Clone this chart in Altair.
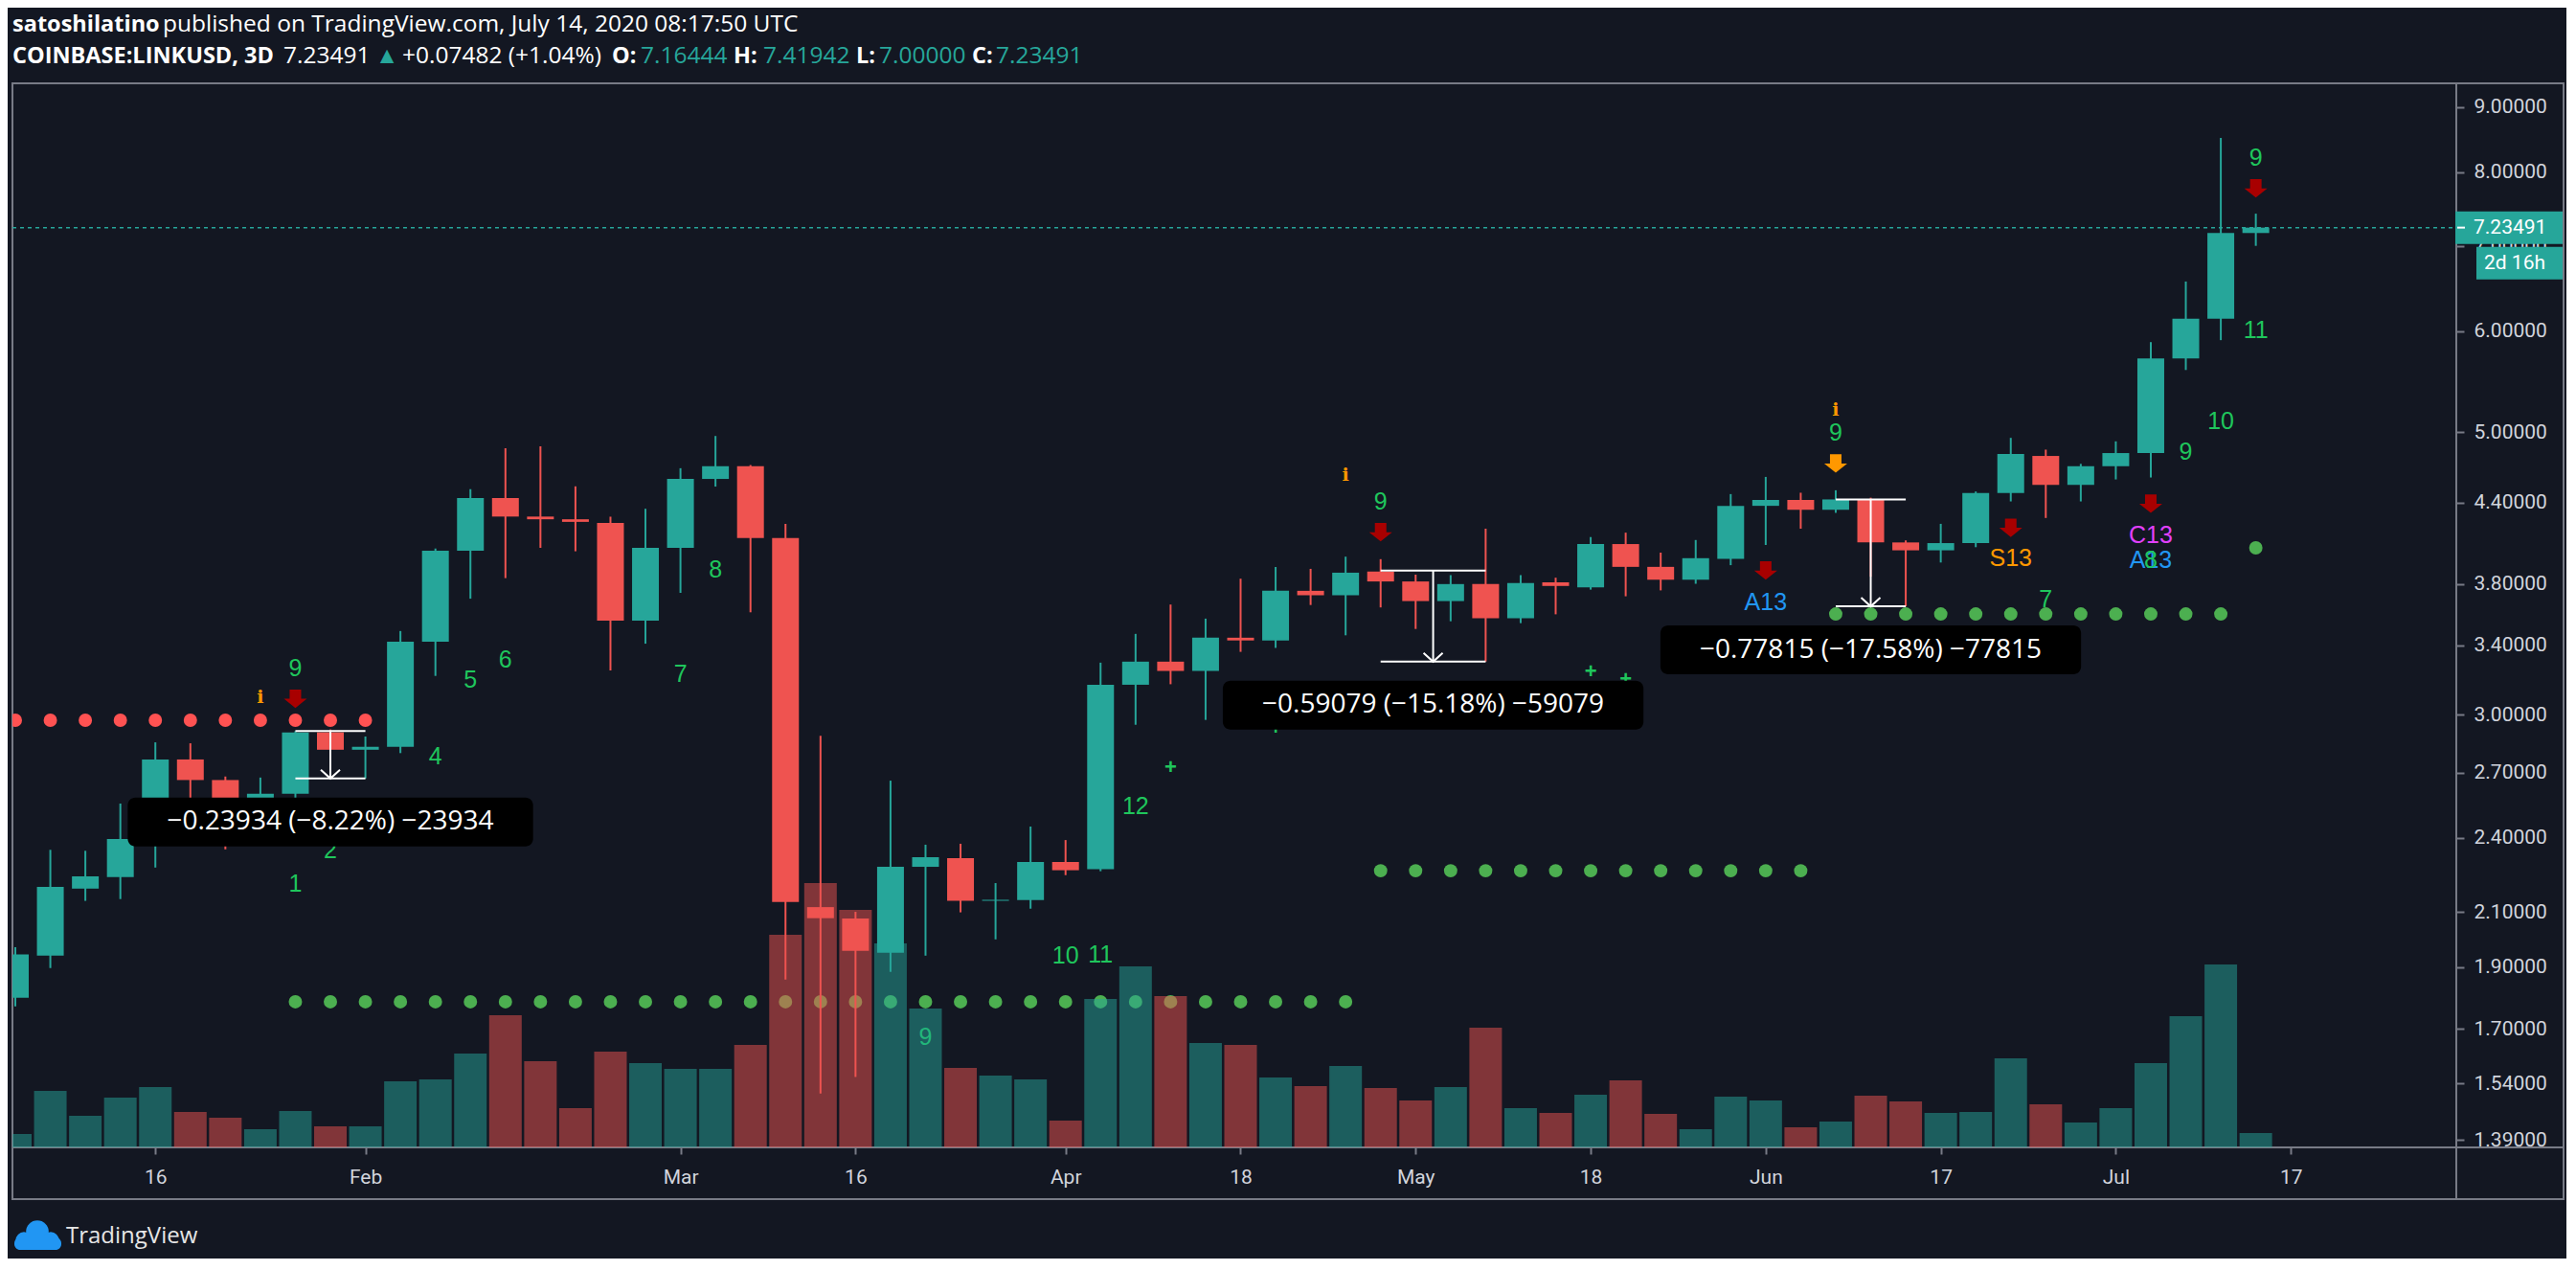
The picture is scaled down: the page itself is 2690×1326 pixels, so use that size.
import json
import numpy as np
import pandas as pd
import altair as alt

# ---------------- chart data ----------------
FIRST_BAR = "2020-01-04"          # COINBASE:LINKUSD, 3-day candles
OPEN = [1.798, 1.940, 2.190, 2.236, 2.396, 2.766, 2.665, 2.580, 2.600, 2.905,
        2.815, 2.830, 3.422, 4.034, 4.437, 4.291, 4.270, 4.242, 3.555, 4.055,
        4.593, 4.700, 4.128, 2.118, 2.075, 1.950, 2.278, 2.314, 2.142, 2.145,
        2.298, 2.268, 3.166, 3.301, 3.246, 3.447, 3.430, 3.752, 3.722, 3.885,
        3.816, 3.683, 3.798, 3.571, 3.810, 3.775, 4.083, 3.918, 3.828, 3.975,
        4.375, 4.422, 4.344, 4.426, 4.095, 4.037, 4.090, 4.477, 4.788, 4.544,
        4.700, 4.813, 5.712, 6.137, 7.16444]
HIGH = [1.970, 2.349, 2.345, 2.554, 2.853, 2.848, 2.682, 2.677, 2.9117, 2.920,
        2.883, 3.489, 4.050, 4.509, 4.855, 4.872, 4.532, 4.290, 4.352, 4.683,
        4.964, 4.710, 4.235, 2.887, 2.100, 2.662, 2.371, 2.375, 2.212, 2.450,
        2.391, 3.295, 3.471, 3.660, 3.568, 3.835, 3.917, 3.904, 3.991, 3.973,
        3.863, 3.860, 4.198, 3.860, 3.842, 4.135, 4.168, 4.020, 4.113, 4.469,
        4.610, 4.480, 4.500, 4.440, 4.110, 4.235, 4.490, 4.947, 4.843, 4.720,
        4.916, 5.882, 6.563, 8.508, 7.41942]
LOW = [1.770, 1.897, 2.142, 2.149, 2.275, 2.550, 2.351, 2.520, 2.560, 2.780,
       2.6724, 2.798, 3.217, 3.699, 3.839, 4.055, 4.030, 3.249, 3.410, 3.738,
       4.530, 3.609, 1.858, 1.512, 1.558, 1.884, 1.940, 2.098, 1.998, 2.112,
       2.244, 2.260, 2.945, 3.169, 2.971, 3.360, 3.384, 3.657, 3.462, 3.641,
       3.502, 3.551, 3.3012, 3.539, 3.596, 3.760, 3.715, 3.755, 3.800, 3.930,
       4.076, 4.198, 4.320, 3.849, 3.6479, 3.949, 4.060, 4.410, 4.280, 4.410,
       4.589, 4.605, 5.593, 5.903, 7.00000]
CLOSE = [1.944, 2.197, 2.239, 2.396, 2.766, 2.665, 2.580, 2.600, 2.905, 2.815,
         2.830, 3.422, 4.034, 4.437, 4.291, 4.270, 4.250, 3.555, 4.055, 4.593,
         4.700, 4.128, 2.138, 2.076, 1.957, 2.278, 2.318, 2.142, 2.146, 2.298,
         2.264, 3.166, 3.301, 3.246, 3.447, 3.430, 3.752, 3.722, 3.877, 3.816,
         3.683, 3.798, 3.571, 3.805, 3.785, 4.083, 3.918, 3.828, 3.980, 4.375,
         4.422, 4.344, 4.426, 4.095, 4.037, 4.090, 4.477, 4.805, 4.544, 4.700,
         4.813, 5.712, 6.137, 7.16444, 7.23491]
VOLUME = [1.4, 5.9, 3.3, 5.2, 6.3, 3.7, 3.1, 1.9, 3.8, 2.2,        # millions (approx.)
          2.2, 6.9, 7.1, 9.8, 13.8, 9.0, 4.1, 10.0, 8.8, 8.2,
          8.2, 10.7, 22.2, 27.6, 24.8, 21.3, 14.5, 8.3, 7.5, 7.1,
          2.8, 15.5, 18.9, 15.8, 10.9, 10.7, 7.3, 6.4, 8.5, 6.2,
          4.9, 6.3, 12.5, 4.1, 3.6, 5.5, 7.0, 3.5, 1.9, 5.3,
          4.9, 2.1, 2.7, 5.4, 4.8, 3.6, 3.7, 9.3, 4.5, 2.6,
          4.1, 8.8, 13.7, 19.1, 1.5]
CHANGE = 0.07482
CHANGE_PCT = 1.04
BAR_TIMER = "2d 16h"

PRICE_TICKS = [1.39, 1.54, 1.70, 1.90, 2.10, 2.40, 2.70, 3.00, 3.40, 3.80,
               4.40, 5.00, 6.00, 7.00, 8.00, 9.00]
TIME_TICK_BARS = [4, 10, 19, 24, 30, 35, 40, 45, 50, 55, 60, 65]
TIME_TICK_LABELS = ["16", "Feb", "Mar", "16", "Apr", "18", "May", "18", "Jun", "17", "Jul", "17"]

# stop dots (runs of bars at one level)
DOT_FROM = [0, 8, 39, 52, 64]
DOT_TO = [10, 38, 51, 63, 64]
DOT_LEVEL = [2.969, 1.785, 2.262, 3.598, 4.055]
DOT_SIDE = ["sell", "buy", "buy", "buy", "buy"]

# TD sequential counts
TD_BAR = [8, 9, 8, 12, 13, 14, 19, 20, 26, 30, 31, 32, 39, 52, 58, 62, 63, 64, 64]
TD_PRICE = [2.209, 2.346, 3.260, 2.778, 3.192, 3.312, 3.226, 3.900, 1.673, 1.940,
            1.944, 2.541, 4.406, 4.991, 3.690, 4.822, 5.093, 6.012, 8.206]
TD_TEXT = ["1", "2", "9", "4", "5", "6", "7", "8", "9", "10", "11", "12", "9", "9",
           "7", "9", "10", "11", "9"]
# countdown letters (drawn under the green 8 at bar 61)
CD_BAR = [50, 57, 61, 61]
CD_PRICE = [3.676, 3.980, 4.150, 3.966]
CD_TEXT = ["A13", "S13", "C13", "A13"]
CD_KIND = ["A", "S", "C", "A"]
OVER_BAR = [61]
OVER_PRICE = [3.966]
OVER_TEXT = ["8"]
PLUS_BAR = [33, 36, 45, 46]
PLUS_PRICE = [2.728, 2.928, 3.246, 3.199]
ARROW_BAR = [8, 39, 50, 52, 57, 61, 64]
ARROW_PRICE = [3.087, 4.171, 3.892, 4.723, 4.205, 4.392, 7.767]
ARROW_KIND = ["sell", "sell", "sell", "warn", "sell", "sell", "sell"]
INFO_BAR = [7, 38, 52]
INFO_PRICE = [3.094, 4.622, 5.202]

# price-range measurements
RULER_FROM = [8, 39, 52]
RULER_TO = [10, 42, 54]
RULER_HIGH = [2.91174, 3.89200, 4.42634]
RULER_LOW = [2.67240, 3.30121, 3.64819]
RULER_TEXT = ["\u22120.23934 (\u22128.22%) \u221223934",
              "\u22120.59079 (\u221215.18%) \u221259079",
              "\u22120.77815 (\u221217.58%) \u221277815"]

# ---------------- layout / style ----------------
PANE_W, PANE_H = 2552, 1111
X_DOMAIN = [0.0545, 69.59]
Y_DOMAIN = [1.3717, 9.391]
VOL_DOMAIN = [0, 111.1]
PX_PER_BAR = PANE_W / (X_DOMAIN[1] - X_DOMAIN[0])
PX_PER_LN = PANE_H / np.log(Y_DOMAIN[1] / Y_DOMAIN[0])

BG = "#131722"
TEAL = "#26a69a"
RED = "#ef5350"
BORDER = "#787b86"
AXIS_TXT = "#d1d4dc"
TD_GREEN = "#1fc65c"
DOT_GREEN = "#4caf50"
DOT_RED = "#ff5252"
SELL_RED = "#a80000"
ORANGE = "#ff9800"
BLUE = "#2196f3"
MAGENTA = "#e040fb"
WHITE = "#ffffff"


def shift(p, px):
    """price that sits px pixels above (px>0) price p on the log axis"""
    return p * np.exp(px / PX_PER_LN)


n = len(OPEN)
df = pd.DataFrame({
    "i": range(n),
    "date": pd.date_range(FIRST_BAR, periods=n, freq="3D").strftime("%Y-%m-%d"),
    "open": OPEN, "high": HIGH, "low": LOW, "close": CLOSE, "volume": VOLUME,
})
df["dir"] = np.where(df["close"] >= df["open"], "up", "down")

dots = pd.DataFrame([(i, lv, sd) for f, t, lv, sd in zip(DOT_FROM, DOT_TO, DOT_LEVEL, DOT_SIDE)
                     for i in range(f, t + 1)], columns=["i", "p", "side"])
td = pd.DataFrame({"i": TD_BAR, "p": TD_PRICE, "t": TD_TEXT})
cd = pd.DataFrame({"i": CD_BAR, "p": CD_PRICE, "t": CD_TEXT, "k": CD_KIND})
over = pd.DataFrame({"i": OVER_BAR, "p": OVER_PRICE, "t": OVER_TEXT})
plus = pd.DataFrame({"i": PLUS_BAR, "p": PLUS_PRICE, "t": ["+"] * len(PLUS_BAR)})
arrows = pd.DataFrame({"i": ARROW_BAR, "p": ARROW_PRICE, "k": ARROW_KIND})
info = pd.DataFrame({"i": INFO_BAR, "p": INFO_PRICE, "t": ["i"] * len(INFO_BAR)})

rul = pd.DataFrame({"a": RULER_FROM, "b": RULER_TO, "hi": RULER_HIGH, "lo": RULER_LOW, "t": RULER_TEXT})
rul["mid"] = (rul["a"] + rul["b"]) / 2
BOX_W = [425, 441, 441]
BOX_H, BOX_GAP = 51, 20
rul["bx"] = rul["mid"] - np.array(BOX_W) / 2 / PX_PER_BAR
rul["bx2"] = rul["mid"] + np.array(BOX_W) / 2 / PX_PER_BAR
rul["by"] = shift(rul["lo"], -BOX_GAP)
rul["by2"] = shift(rul["lo"], -BOX_GAP - BOX_H)
rul["bym"] = shift(rul["lo"], -BOX_GAP - BOX_H / 2)
hlines = pd.concat([rul[["a", "b", "hi"]].rename(columns={"hi": "p"}),
                    rul[["a", "b", "lo"]].rename(columns={"lo": "p"})])

last = CLOSE[-1]
tag = pd.DataFrame({"p": [last], "top": [shift(last, 17)], "bot": [shift(last, -17)],
                    "top2": [shift(last, -20)], "bot2": [shift(last, -54)],
                    "mid2": [shift(last, -37)], "t": [f"{last:.5f}"], "t2": [BAR_TIMER]})

one = pd.DataFrame({"k": [0]})

# ---------------- scales & axes ----------------
xs = alt.Scale(domain=X_DOMAIN, nice=False, zero=False)
ys = alt.Scale(type="log", domain=Y_DOMAIN, nice=False, zero=False)
dir_col = alt.Scale(domain=["up", "down"], range=[TEAL, RED])

label_expr = f"{json.dumps(TIME_TICK_LABELS)}[indexof({json.dumps(TIME_TICK_BARS)}, datum.value)]"
x_axis = alt.Axis(values=TIME_TICK_BARS, labelExpr=label_expr, title=None, grid=False,
                  domain=False, tickSize=7, tickWidth=2, tickColor=BORDER,
                  labelColor=AXIS_TXT, labelFont="Roboto", labelFontSize=21,
                  labelPadding=13, labelFlush=False, labelOverlap=False)
y_axis = alt.Axis(orient="right", values=PRICE_TICKS, format=".5f", title=None, grid=False,
                  domain=False, tickSize=8, tickWidth=2, tickColor=BORDER,
                  labelColor=AXIS_TXT, labelFont="Roboto", labelFontSize=21,
                  labelPadding=10, labelFlush=False, labelOverlap=False)


def X(f="i"):
    return alt.X(f"{f}:Q", scale=xs, axis=x_axis)


def Y(f, axis=False):
    return alt.Y(f"{f}:Q", scale=ys, axis=y_axis if axis else None)


def PX(v):
    return alt.value(v)


# ---------------- layers ----------------
frame = alt.Chart(one).mark_rect(filled=False, stroke=BORDER, strokeWidth=2).encode(
    x=PX(0), x2=PX(2664), y=PX(0), y2=PX(1165))
sep_h = alt.Chart(one).mark_rule(color=BORDER, strokeWidth=2).encode(x=PX(0), x2=PX(2664), y=PX(PANE_H))
sep_v = alt.Chart(one).mark_rule(color=BORDER, strokeWidth=2).encode(x=PX(PANE_W), y=PX(0), y2=PX(1165))

dot_layer = alt.Chart(dots).mark_circle(size=195, opacity=1, clip=True).encode(
    x=X(), y=Y("p"),
    color=alt.Color("side:N", scale=alt.Scale(domain=["sell", "buy"], range=[DOT_RED, DOT_GREEN]), legend=None))

cd_layer = alt.Chart(cd).mark_text(font="Liberation Sans", fontSize=25, align="center", baseline="middle").encode(
    x=X(), y=Y("p"), text="t:N",
    color=alt.Color("k:N", scale=alt.Scale(domain=["A", "S", "C"], range=[BLUE, ORANGE, MAGENTA]), legend=None))
td_layer = alt.Chart(td).mark_text(font="Liberation Sans", fontSize=25, align="center", baseline="middle",
                                   color=TD_GREEN).encode(x=X(), y=Y("p"), text="t:N")
over_layer = alt.Chart(over).mark_text(font="Liberation Sans", fontSize=25, align="center", baseline="middle",
                                       color=TD_GREEN).encode(x=X(), y=Y("p"), text="t:N")
plus_layer = alt.Chart(plus).mark_text(font="Liberation Sans", fontSize=22, fontWeight="bold", align="center",
                                       baseline="middle", color=TD_GREEN).encode(x=X(), y=Y("p"), text="t:N")
ARROW_PATH = "M-0.5,-0.8L0.5,-0.8L0.5,0L1,0L0,0.8L-1,0L-0.5,0Z"
arrow_layer = alt.Chart(arrows).mark_point(shape=ARROW_PATH, size=576, filled=True, opacity=1, strokeWidth=0).encode(
    x=X(), y=Y("p"),
    color=alt.Color("k:N", scale=alt.Scale(domain=["sell", "warn"], range=[SELL_RED, ORANGE]), legend=None))
info_layer = alt.Chart(info).mark_text(font="DejaVu Serif", fontWeight="bold", fontSize=19, align="center",
                                       baseline="middle", color=ORANGE).encode(x=X(), y=Y("p"), text="t:N")

vol_layer = alt.Chart(df).mark_bar(size=34, opacity=0.5, clip=True).encode(
    x=X(),
    y=alt.Y("volume:Q", scale=alt.Scale(domain=VOL_DOMAIN, nice=False), axis=None),
    color=alt.Color("dir:N", scale=dir_col, legend=None))

wick_layer = alt.Chart(df).mark_rule(strokeWidth=2, clip=True).encode(
    x=X(), y=Y("low", axis=True), y2="high:Q",
    color=alt.Color("dir:N", scale=dir_col, legend=None))
body_layer = alt.Chart(df).mark_bar(size=28, clip=True).encode(
    x=X(), y=Y("open"), y2="close:Q",
    color=alt.Color("dir:N", scale=dir_col, legend=None))

price_line = alt.Chart(tag).mark_rule(color=TEAL, strokeWidth=1.5, strokeDash=[4, 4]).encode(
    x=PX(0), x2=PX(PANE_W), y=Y("p"))

ruler_h = alt.Chart(hlines).mark_rule(color=WHITE, strokeWidth=2).encode(x=X("a"), x2="b:Q", y=Y("p"))
ruler_v = alt.Chart(rul).mark_rule(color=WHITE, strokeWidth=2).encode(x=X("mid"), y=Y("hi"), y2="lo:Q")
ruler_tip = alt.Chart(rul).mark_point(shape="M-1,-0.9L0,0L1,-0.9", size=400, filled=False,
                                      color=WHITE, strokeWidth=2, opacity=1).encode(x=X("mid"), y=Y("lo"))
box_layer = alt.Chart(rul).mark_rect(color="#000000", cornerRadius=8).encode(
    x=X("bx"), x2="bx2:Q", y=Y("by"), y2="by2:Q")
box_text = alt.Chart(rul).mark_text(font="Open Sans", fontSize=28, color=WHITE, align="center",
                                    baseline="middle").encode(x=X("mid"), y=Y("bym"), text="t:N")

tag_box = alt.Chart(tag).mark_rect(color=TEAL).encode(x=PX(2551), x2=PX(2663), y=Y("top"), y2="bot:Q")
tag_tick = alt.Chart(tag).mark_rule(color=WHITE, strokeWidth=2).encode(x=PX(2553), x2=PX(2561), y=Y("p"))
tag_text = alt.Chart(tag).mark_text(font="Roboto", fontSize=21, color=WHITE, align="left",
                                    baseline="middle").encode(x=PX(2570), y=Y("p"), text="t:N")
timer_box = alt.Chart(tag).mark_rect(color=TEAL).encode(x=PX(2573), x2=PX(2663), y=Y("top2"), y2="bot2:Q")
timer_text = alt.Chart(tag).mark_text(font="Roboto", fontSize=21, color=WHITE, align="left",
                                      baseline="middle").encode(x=PX(2581), y=Y("mid2"), text="t2:N")

# header (two lines) and footer
o, h, l, c = OPEN[-1], HIGH[-1], LOW[-1], CLOSE[-1]
head_bold = pd.DataFrame({
    "x": [0, 0, 626, 753, 881, 1002],
    "y": [-54, -21, -21, -21, -21, -21],
    "t": ["satoshilatino", "COINBASE:LINKUSD, 3D", "O:", "H:", "L:", "C:"]})
head_norm = pd.DataFrame({
    "x": [157, 283, 379, 407, 656, 784, 905, 1027],
    "y": [-54, -21, -21, -21, -21, -21, -21, -21],
    "t": ["published on TradingView.com, July 14, 2020 08:17:50 UTC", f"{c:.5f}", "\u25b2",
          f"+{CHANGE:.5f} (+{CHANGE_PCT:.2f}%)", f"{o:.5f}", f"{h:.5f}", f"{l:.5f}", f"{c:.5f}"],
    "c": [WHITE, WHITE, TEAL, WHITE, TEAL, TEAL, TEAL, TEAL]})
hb = alt.Chart(head_bold).mark_text(font="Open Sans", fontSize=23.5, fontWeight="bold", color=WHITE,
                                    align="left", baseline="alphabetic").encode(
    x=alt.X("x:Q", scale=None, axis=None), y=alt.Y("y:Q", scale=None, axis=None), text="t:N")
hn = alt.Chart(head_norm).mark_text(font="Open Sans", fontSize=24.5, align="left", baseline="alphabetic").encode(
    x=alt.X("x:Q", scale=None, axis=None), y=alt.Y("y:Q", scale=None, axis=None), text="t:N",
    color=alt.Color("c:N", scale=None))

logo_c = pd.DataFrame({"x": [12, 26, 40], "y": [1208, 1199, 1208], "s": [300, 560, 300]})
logo = alt.Chart(logo_c).mark_circle(color=BLUE, opacity=1).encode(
    x=alt.X("x:Q", scale=None, axis=None), y=alt.Y("y:Q", scale=None, axis=None),
    size=alt.Size("s:Q", scale=None, legend=None))
logo_base = alt.Chart(one).mark_rect(color=BLUE, cornerRadius=6).encode(
    x=PX(2), x2=PX(51), y=PX(1205), y2=PX(1218))
logo_text = alt.Chart(pd.DataFrame({"t": ["TradingView"]})).mark_text(
    font="Open Sans", fontSize=24, color="#e6e6e6", align="left", baseline="middle").encode(
    x=PX(56), y=PX(1204), text="t:N")

chart = alt.layer(
    frame, sep_h, sep_v,
    dot_layer, cd_layer, td_layer, over_layer, plus_layer, arrow_layer, info_layer,
    vol_layer, wick_layer, body_layer,
    price_line, ruler_h, ruler_v, ruler_tip, box_layer, box_text,
    tag_box, tag_tick, tag_text, timer_box, timer_text,
    hb, hn, logo, logo_base, logo_text,
).resolve_scale(y="independent", color="independent").properties(
    width=PANE_W, height=PANE_H,
    padding={"left": 5, "top": 79, "right": 115, "bottom": 116},
    autosize=alt.AutoSizeParams(type="none"),
    background=BG,
).configure_view(stroke=None)

chart.save("out.html", embed_options={"renderer": "svg", "actions": False})
